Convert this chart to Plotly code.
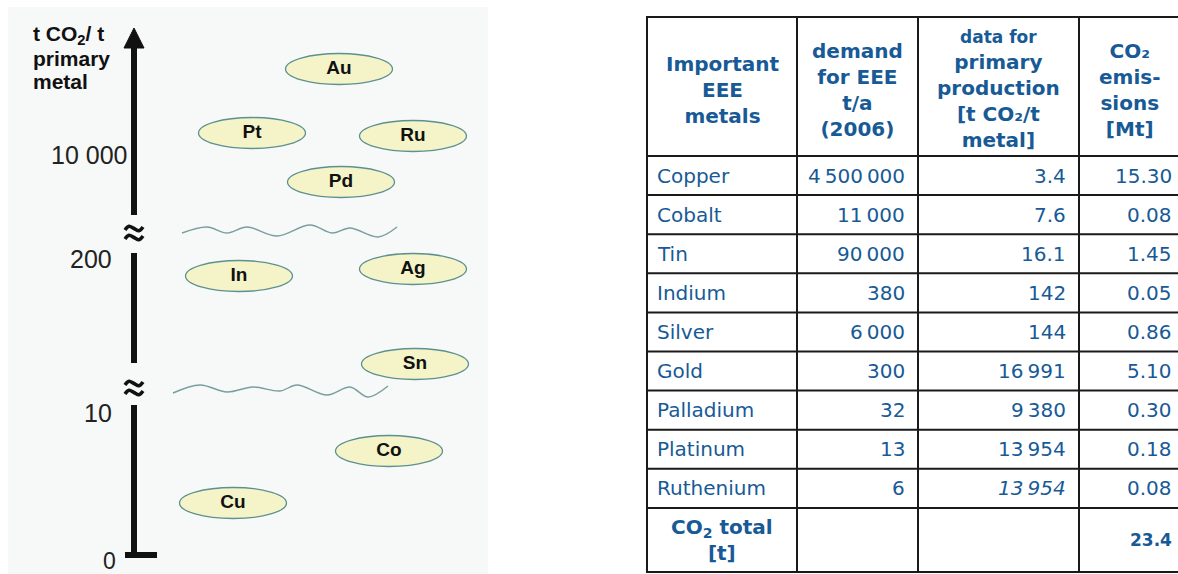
import plotly.graph_objects as go

# ------------------------------------------------------------------ data
# schematic diagram (left): position of each metal on the broken CO2 scale
diagram_symbols = ["Cu", "Co", "Sn", "In", "Ag", "Pd", "Pt", "Ru", "Au"]
diagram_levels = [52, 104, 191, 279, 286, 373, 422, 419, 486]
diagram_columns = [233, 389, 415, 239, 413, 341, 252, 413, 339]

axis_tick_labels = ["0", "10", "200", "10 000"]
axis_tick_levels = [0, 142, 296, 400]

# table (right)
table_metals = ["Copper", "Cobalt", "Tin", "Indium", "Silver", "Gold",
                "Palladium", "Platinum", "Ruthenium"]
demand_t_per_a = [4500000, 11000, 90000, 380, 6000, 300, 32, 13, 6]
co2_per_t_metal = [3.4, 7.6, 16.1, 142, 144, 16991, 9380, 13954, 13954]
co2_emissions_mt = [15.30, 0.08, 1.45, 0.05, 0.86, 5.10, 0.30, 0.18, 0.08]
factor_is_estimate = [False, False, False, False, False, False, False, False, True]
co2_total_mt = 23.4

header_labels = [
    "Important<br>EEE<br>metals",
    "demand<br>for EEE<br>t/a<br>(2006)",
    "<span style='font-size:17px'>data for</span><br>primary<br>production<br>[t CO₂/t<br>metal]",
    "CO₂<br>emis-<br>sions<br>[Mt]",
]
total_label = "CO<sub>2</sub> total<br>[t]"

# ------------------------------------------------------------------ styles / layout constants
W, H = 1178, 574
BLUE = "#175a96"
AXIS_X = 134
SHAFT_SEGMENTS = [(0, 150), (192, 302), (340, 509)]
BREAK_LEVELS = [167, 322]
ELL_W, ELL_H = 107, 31
tick_label_right = [117, 113, 113, 128]
tick_label_dy = [-6, 0, 0, 0]
tick_label_size = [23, 25, 25, 25]
title_lines = ["t CO<sub>2</sub>/ t", "primary", "metal"]
title_line_y = [35, 58, 81]

# decorative shapes (axis-break marks)
tilde_dx = [-9, -5, 0, 5, 9]
tilde_dy = [-1.5, 2.2, 0, -2.2, 1.5]
wave_upper_x = [182, 207, 227, 247, 277, 310, 332, 350, 378, 397]
wave_upper_lv = [322, 328, 322, 328, 319, 330, 322, 327, 318, 328]
wave_lower_x = [173, 200, 227, 253, 280, 297, 327, 350, 368, 388]
wave_lower_lv = [162, 170, 163, 168, 164, 170, 160, 168, 158, 169]

COL_EDGES = [647, 797, 918, 1079]
TABLE_RIGHT = 1178
TOP, HEADER_BOTTOM, ROW_H, BOTTOM = 17, 156, 39.1, 572
THIN = "\u2009"


def fmt_thousands(v):
    if float(v).is_integer():
        return f"{int(v):,}".replace(",", THIN)
    return f"{v}"


fig = go.Figure()
shapes, annos = [], []

# ---------------------------------------------------------------- left schematic
shapes.append(dict(type="rect", xref="x", yref="y2", x0=8, x1=488, y0=7, y1=H,
                   fillcolor="#f7f8f8", line=dict(width=0), layer="below"))

for a, b in SHAFT_SEGMENTS:
    shapes.append(dict(type="line", xref="x", yref="y", x0=AXIS_X, x1=AXIS_X, y0=a, y1=b,
                       line=dict(color="#111111", width=6)))
shapes.append(dict(type="line", xref="x", yref="y", x0=125, x1=157, y0=0, y1=0,
                   line=dict(color="#111111", width=6)))
shapes.append(dict(type="path", xref="x", yref="y",
                   path=f"M {AXIS_X-10},{SHAFT_SEGMENTS[-1][1]-2} L {AXIS_X+10},{SHAFT_SEGMENTS[-1][1]-2} L {AXIS_X},527 Z",
                   fillcolor="#111111", line=dict(color="#111111", width=1)))
for lv in BREAK_LEVELS:
    for off in (4.5, -4.5):
        fig.add_trace(go.Scatter(x=[AXIS_X + d for d in tilde_dx],
                                 y=[lv + off + d for d in tilde_dy],
                                 mode="lines", xaxis="x", yaxis="y",
                                 line=dict(color="#111111", width=3.6, shape="spline"),
                                 hoverinfo="skip"))

for txt, lv, xr, dy, fs in zip(axis_tick_labels, axis_tick_levels, tick_label_right,
                               tick_label_dy, tick_label_size):
    annos.append(dict(x=xr, y=lv, xref="x", yref="y", yshift=dy, text=txt, showarrow=False,
                      xanchor="right", yanchor="middle", borderpad=0,
                      font=dict(family="Liberation Sans", size=fs, color="#222222")))

for txt, yy in zip(title_lines, title_line_y):
    annos.append(dict(x=31, y=yy, xref="x", yref="y2", text=txt, showarrow=False,
                      xanchor="left", yanchor="middle",
                      font=dict(family="Liberation Sans", size=21, color="#111111", weight="bold")))

for wx, wl in ((wave_upper_x, wave_upper_lv), (wave_lower_x, wave_lower_lv)):
    fig.add_trace(go.Scatter(x=wx, y=wl, mode="lines", xaxis="x", yaxis="y",
                             line=dict(color="#7a9e9e", width=1.4, shape="spline"),
                             hoverinfo="skip"))

for cx, lv in zip(diagram_columns, diagram_levels):
    shapes.append(dict(type="circle", xref="x", yref="y", layer="below",
                       x0=cx - ELL_W / 2, x1=cx + ELL_W / 2, y0=lv - ELL_H / 2, y1=lv + ELL_H / 2,
                       fillcolor="#f4f4c8", line=dict(color="#5d9090", width=1.3)))

fig.add_trace(go.Scatter(x=diagram_columns, y=diagram_levels, text=diagram_symbols,
                         mode="text", textposition="middle center", xaxis="x", yaxis="y",
                         textfont=dict(family="Liberation Sans", size=19, color="#111111", weight="bold"),
                         hoverinfo="skip"))

# ---------------------------------------------------------------- right table
n = len(table_metals)
row_edges = [HEADER_BOTTOM + i * ROW_H for i in range(n + 1)]
for yy in [TOP] + row_edges + [BOTTOM]:
    shapes.append(dict(type="line", xref="x", yref="y2", x0=COL_EDGES[0] - 1, x1=TABLE_RIGHT,
                       y0=yy, y1=yy, line=dict(color="#1a1a1a", width=2)))
for xx in COL_EDGES:
    shapes.append(dict(type="line", xref="x", yref="y2", x0=xx, x1=xx, y0=TOP, y1=BOTTOM,
                       line=dict(color="#1a1a1a", width=2)))

col_centers = [(COL_EDGES[i] + (COL_EDGES[i + 1] if i + 1 < len(COL_EDGES) else TABLE_RIGHT)) / 2
               for i in range(len(COL_EDGES))]
col_centers[-1] += 1
for cx, txt in zip(col_centers, header_labels):
    annos.append(dict(x=cx, y=(TOP + HEADER_BOTTOM) / 2 + 3, xref="x", yref="y2", text=txt,
                      showarrow=False, xanchor="center", yanchor="middle", align="center",
                      font=dict(family="DejaVu Sans", size=20, color=BLUE, weight="bold")))

body_font = dict(family="DejaVu Sans", size=20, color=BLUE)
right_x = [COL_EDGES[2] - 11, COL_EDGES[3] - 11, TABLE_RIGHT - 4]
for i in range(n):
    yc = (row_edges[i] + row_edges[i + 1]) / 2
    annos.append(dict(x=COL_EDGES[0] + 8, y=yc, xref="x", yref="y2", text=table_metals[i],
                      showarrow=False, xanchor="left", yanchor="middle", font=body_font))
    f_txt = fmt_thousands(co2_per_t_metal[i])
    if factor_is_estimate[i]:
        f_txt = f"<i>{f_txt}</i>"
    vals = [fmt_thousands(demand_t_per_a[i]), f_txt, f"{co2_emissions_mt[i]:.2f}"]
    for xr, v in zip(right_x, vals):
        annos.append(dict(x=xr, y=yc, xref="x", yref="y2", text=v, showarrow=False,
                          xanchor="right", yanchor="middle", font=body_font))

yc_tot = (row_edges[-1] + BOTTOM) / 2
annos.append(dict(x=col_centers[0], y=yc_tot, xref="x", yref="y2", text=total_label,
                  showarrow=False, xanchor="center", yanchor="middle", align="center",
                  font=dict(family="DejaVu Sans", size=20, color=BLUE, weight="bold")))
annos.append(dict(x=right_x[2], y=yc_tot, xref="x", yref="y2", text=f"{co2_total_mt}",
                  showarrow=False, xanchor="right", yanchor="middle",
                  font=dict(family="DejaVu Sans", size=17, color=BLUE, weight="bold")))

fig.update_layout(
    width=W, height=H, margin=dict(l=0, r=0, t=0, b=0),
    paper_bgcolor="white", plot_bgcolor="rgba(0,0,0,0)", showlegend=False,
    xaxis=dict(domain=[0, 1], range=[0, W], visible=False, fixedrange=True),
    yaxis=dict(domain=[0, 1], range=[-19, 555], visible=False, fixedrange=True),
    yaxis2=dict(overlaying="y", range=[H, 0], visible=False, fixedrange=True),
    shapes=shapes, annotations=annos,
)

fig.write_html("out.html", config={"displayModeBar": False},
               post_script="document.body.style.margin='0px';document.body.style.overflow='hidden';")
